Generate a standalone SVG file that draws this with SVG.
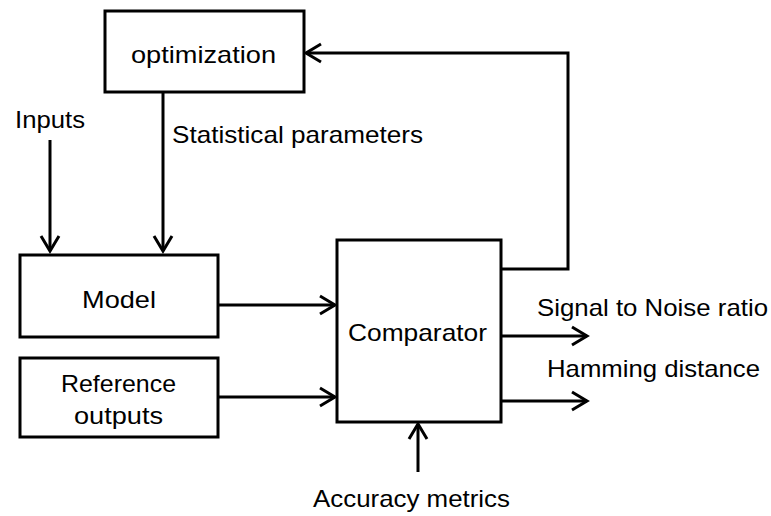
<svg xmlns="http://www.w3.org/2000/svg" width="771" height="516" viewBox="0 0 771 516">
<defs>
<marker id="arr" markerUnits="userSpaceOnUse" markerWidth="24" markerHeight="24" viewBox="-18 -12 24 24" refX="0" refY="0" orient="auto">
<polyline points="-15,-9 0,0 -15,9" fill="none" stroke="#000" stroke-width="3"/>
</marker>
</defs>
<style>
.box{fill:#fff;stroke:#000;stroke-width:3}
.ln{fill:none;stroke:#000;stroke-width:3}
text{font-family:"Liberation Sans",Arial,sans-serif;font-size:24px;fill:#000}
</style>
<rect width="771" height="516" fill="#fff"/>
<g id="connectors">
<path class="ln" d="M50,140 V251" marker-end="url(#arr)"/>
<path class="ln" d="M163,92 V251" marker-end="url(#arr)"/>
<path class="ln" d="M218,305 H335" marker-end="url(#arr)"/>
<path class="ln" d="M218,397 H335" marker-end="url(#arr)"/>
<path class="ln" d="M501,269 H568 V53 H306" marker-end="url(#arr)"/>
<path class="ln" d="M501,336 H587" marker-end="url(#arr)"/>
<path class="ln" d="M501,401 H587" marker-end="url(#arr)"/>
<path class="ln" d="M418,472 V424" marker-end="url(#arr)"/>
</g>
<g id="optimization">
<rect class="box" x="105" y="11" width="199" height="81"/>
<text x="131" y="63" textLength="145" lengthAdjust="spacingAndGlyphs">optimization</text>
</g>
<g id="model">
<rect class="box" x="20" y="255" width="198" height="82"/>
<text x="82" y="308" textLength="74" lengthAdjust="spacingAndGlyphs">Model</text>
</g>
<g id="reference">
<rect class="box" x="20" y="358" width="198" height="79"/>
<text x="61" y="392" textLength="115" lengthAdjust="spacingAndGlyphs">Reference</text>
<text x="74" y="424" textLength="89" lengthAdjust="spacingAndGlyphs">outputs</text>
</g>
<g id="comparator">
<rect class="box" x="337" y="240" width="164" height="182"/>
<text x="348" y="341" textLength="139" lengthAdjust="spacingAndGlyphs">Comparator</text>
</g>
<g id="labels">
<text x="15" y="128" textLength="70" lengthAdjust="spacingAndGlyphs">Inputs</text>
<text x="172" y="143" textLength="251" lengthAdjust="spacingAndGlyphs">Statistical parameters</text>
<text x="537" y="316" textLength="231" lengthAdjust="spacingAndGlyphs">Signal to Noise ratio</text>
<text x="547" y="377" textLength="213" lengthAdjust="spacingAndGlyphs">Hamming distance</text>
<text x="313" y="507" textLength="197" lengthAdjust="spacingAndGlyphs">Accuracy metrics</text>
</g>
</svg>
